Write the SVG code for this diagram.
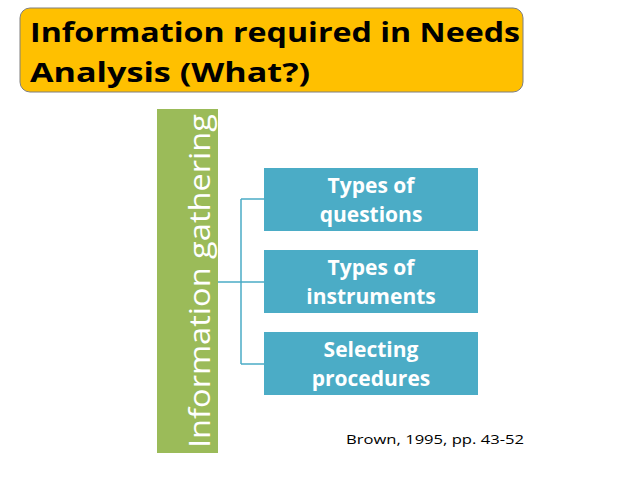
<svg xmlns="http://www.w3.org/2000/svg" width="638" height="479" viewBox="0 0 638 479">
<style>
.t{font-family:"Open Sans","Liberation Sans",sans-serif;font-weight:bold}
.b{fill:#4BACC6}
.bt{font-family:"Open Sans","Liberation Sans",sans-serif;font-weight:bold;font-size:21px;fill:#fff;text-anchor:middle}
.c{fill:none;stroke:#4BACC6;stroke-width:1.5}
</style>
<rect width="638" height="479" fill="#fff"/>
<g id="title">
<rect x="20" y="8" width="503" height="84" rx="10" fill="#FFC000" stroke="#7f7f7f" stroke-width="1"/>
<text class="t" x="30" y="42" font-size="26" textLength="490" lengthAdjust="spacingAndGlyphs">Information required in Needs</text>
<text class="t" x="30" y="82" font-size="26" textLength="280" lengthAdjust="spacingAndGlyphs">Analysis (What?)</text>
</g>
<g id="root">
<rect x="157" y="109" width="61" height="344" fill="#9BBB59"/>
<text transform="translate(210,448) rotate(-90)" font-family="Open Sans,Liberation Sans,sans-serif" font-size="30" fill="#fff" textLength="334" lengthAdjust="spacingAndGlyphs">Information gathering</text>
</g>
<g id="connectors">
<path class="c" d="M218,282 H264 M241,199 V364 M241,199 H264 M241,364 H264"/>
</g>
<g id="n1"><rect class="b" x="264" y="168" width="214" height="63"/>
<text class="bt" x="371" y="193">Types of</text><text class="bt" x="371" y="222">questions</text></g>
<g id="n2"><rect class="b" x="264" y="250" width="214" height="63"/>
<text class="bt" x="371" y="275">Types of</text><text class="bt" x="371" y="304">instruments</text></g>
<g id="n3"><rect class="b" x="264" y="332" width="214" height="63"/>
<text class="bt" x="371" y="357">Selecting</text><text class="bt" x="371" y="386">procedures</text></g>
<text x="346" y="444" font-family="Open Sans,Liberation Sans,sans-serif" font-size="13" fill="#000" textLength="178" lengthAdjust="spacingAndGlyphs">Brown, 1995, pp. 43-52</text>
</svg>
